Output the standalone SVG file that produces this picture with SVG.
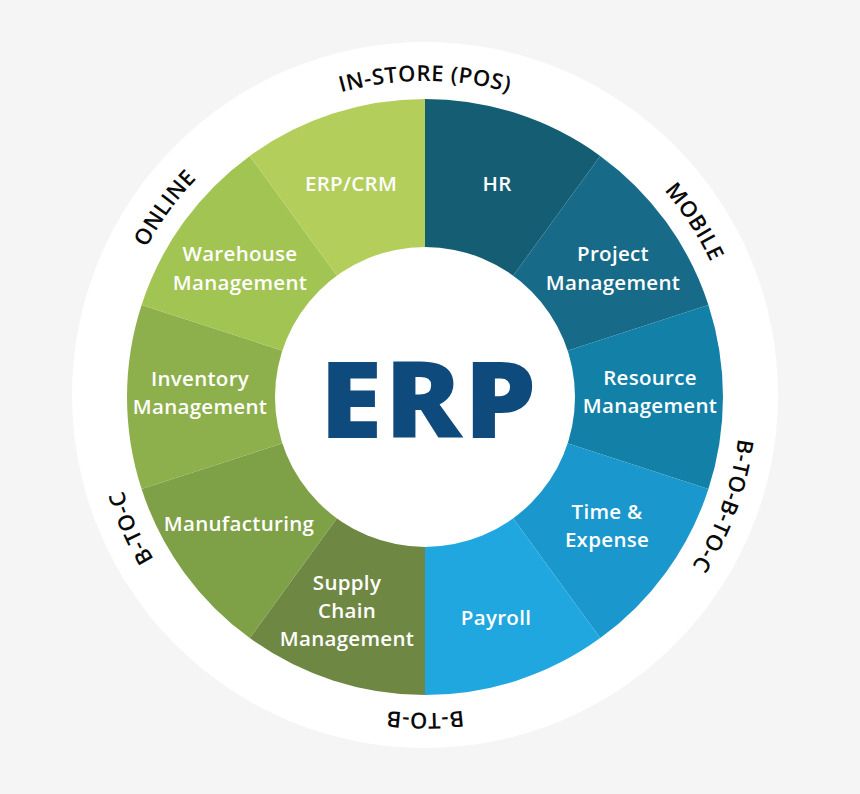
<svg xmlns="http://www.w3.org/2000/svg" xmlns:xlink="http://www.w3.org/1999/xlink" width="860" height="794" viewBox="0 0 860 794">
<defs>
<style>
.lbl{font-family:"Open Sans","Liberation Sans",sans-serif;font-weight:600;font-size:20.5px;fill:#ffffff;text-anchor:middle;letter-spacing:0.3px}
.ring{font-family:"Open Sans","Liberation Sans",sans-serif;font-weight:600;font-size:22px;fill:#0a0a0a;letter-spacing:0.6px}
.erp{font-family:"Open Sans","Liberation Sans",sans-serif;font-weight:800;font-size:106px;fill:#0f4a7d;text-anchor:middle;letter-spacing:2px}
</style>
<path id="ringPath" d="M425,713 A316,316 0 1 1 425,81 A316,316 0 1 1 425,713"/>
</defs>
<rect width="860" height="794" fill="#f5f5f5"/>
<circle cx="425" cy="395" r="353" fill="#ffffff"/>

<g id="seg-hr"><path d="M425,397 L425,99 A298,298 0 0 1 600.2,155.9 Z" fill="#145d72"/><text class="lbl" x="497" y="191">HR</text></g>
<g id="seg-project"><path d="M425,397 L600.2,155.9 A298,298 0 0 1 708.4,304.9 Z" fill="#176b88"/><text class="lbl" x="613" y="261">Project</text><text class="lbl" x="613" y="290">Management</text></g>
<g id="seg-resource"><path d="M425,397 L708.4,304.9 A298,298 0 0 1 708.4,489.1 Z" fill="#1381a7"/><text class="lbl" x="650" y="385">Resource</text><text class="lbl" x="650" y="413">Management</text></g>
<g id="seg-time"><path d="M425,397 L708.4,489.1 A298,298 0 0 1 600.2,638.1 Z" fill="#1a97cc"/><text class="lbl" x="607" y="519">Time &amp;</text><text class="lbl" x="607" y="547">Expense</text></g>
<g id="seg-payroll"><path d="M425,397 L600.2,638.1 A298,298 0 0 1 425,695 Z" fill="#21a7e0"/><text class="lbl" x="496" y="625">Payroll</text></g>
<g id="seg-supply"><path d="M425,397 L425,695 A298,298 0 0 1 249.8,638.1 Z" fill="#6e8743"/><text class="lbl" x="347" y="590">Supply</text><text class="lbl" x="347" y="618">Chain</text><text class="lbl" x="347" y="646">Management</text></g>
<g id="seg-manufacturing"><path d="M425,397 L249.8,638.1 A298,298 0 0 1 141.6,489.1 Z" fill="#7ea046"/><text class="lbl" x="239" y="531">Manufacturing</text></g>
<g id="seg-inventory"><path d="M425,397 L141.6,489.1 A298,298 0 0 1 141.6,304.9 Z" fill="#8eb04c"/><text class="lbl" x="200" y="386">Inventory</text><text class="lbl" x="200" y="414">Management</text></g>
<g id="seg-warehouse"><path d="M425,397 L141.6,304.9 A298,298 0 0 1 249.8,155.9 Z" fill="#a2c452"/><text class="lbl" x="240" y="261">Warehouse</text><text class="lbl" x="240" y="290">Management</text></g>
<g id="seg-erpcrm"><path d="M425,397 L249.8,155.9 A298,298 0 0 1 425,99 Z" fill="#b4ce5c"/><text class="lbl" x="351" y="191">ERP/CRM</text></g>

<g id="center"><circle cx="425" cy="397" r="150" fill="#ffffff"/><text class="erp" x="0" y="438" transform="translate(429 0) scale(1.08 1)">ERP</text></g>

<g id="channels">
<g transform="rotate(0 425 397)"><text class="ring"><textPath xlink:href="#ringPath" href="#ringPath" startOffset="50%" text-anchor="middle">IN-STORE (POS)</textPath></text></g>
<g transform="rotate(57 425 397)"><text class="ring"><textPath xlink:href="#ringPath" href="#ringPath" startOffset="50%" text-anchor="middle">MOBILE</textPath></text></g>
<g transform="rotate(110 425 397)"><text class="ring"><textPath xlink:href="#ringPath" href="#ringPath" startOffset="50%" text-anchor="middle">B-TO-B-TO-C</textPath></text></g>
<g transform="rotate(180 425 397)"><text class="ring"><textPath xlink:href="#ringPath" href="#ringPath" startOffset="50%" text-anchor="middle">B-TO-B</textPath></text></g>
<g transform="rotate(246 425 397)"><text class="ring"><textPath xlink:href="#ringPath" href="#ringPath" startOffset="50%" text-anchor="middle">B-TO-C</textPath></text></g>
<g transform="rotate(306 425 397)"><text class="ring"><textPath xlink:href="#ringPath" href="#ringPath" startOffset="50%" text-anchor="middle">ONLINE</textPath></text></g>
</g>
</svg>
